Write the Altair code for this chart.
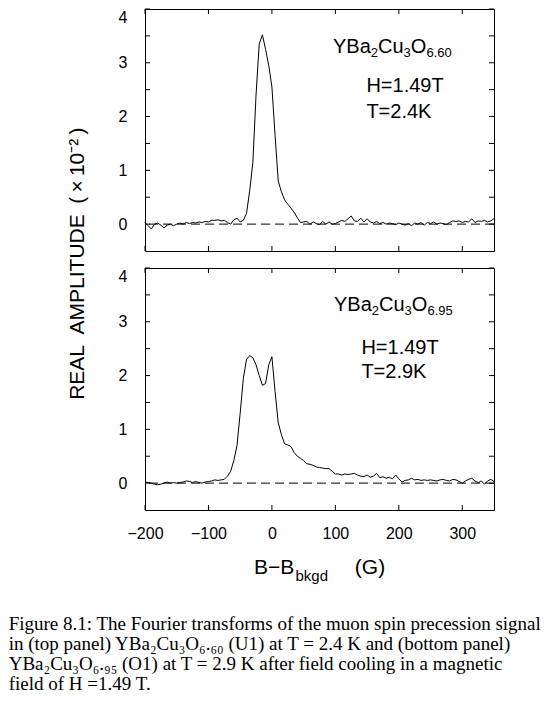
import altair as alt
import pandas as pd

# B - B_bkgd (G), one point every 5 G
field = list(range(-200, 355, 5))

# top panel, YBa2Cu3O6.60 (U1), H = 1.49 T, T = 2.4 K   (x 10^-2)
amp_660 = [
    0.03, -0.03, -0.09, 0.0, 0.02, -0.02, -0.07, -0.02, 0.0, -0.03,
    0.0, 0.02, 0.0, 0.03, 0.01, 0.03, 0.02, 0.04, 0.03, 0.05,
    0.04, 0.07, 0.07, 0.08, 0.06, 0.07, 0.03, 0.0, 0.08, 0.11,
    0.04, 0.07, 0.2, 0.62, 1.15, 2.4, 3.35, 3.52, 3.25, 2.95,
    2.55, 1.65, 0.8, 0.6, 0.45, 0.37, 0.3, 0.22, 0.12, 0.03,
    0.04, 0.05, 0.0, 0.04, 0.01, -0.01, 0.05, 0.0, 0.04, 0.0,
    0.01, 0.04, 0.07, 0.05, 0.1, 0.15, 0.06, 0.05, 0.11, 0.04,
    0.1, 0.04, 0.02, 0.05, 0.01, 0.03, 0.0, 0.02, 0.01, -0.01,
    0.02, 0.0, -0.02, 0.01, -0.03, 0.02, 0.0, 0.03, -0.02, 0.03,
    0.01, 0.04, 0.0, 0.02, 0.01, -0.01, 0.03, 0.06, 0.05, 0.06,
    0.03, 0.05, 0.04, 0.1, 0.03, 0.06, 0.05, 0.07, 0.04, 0.06,
    0.1,
]

# bottom panel, YBa2Cu3O6.95 (O1), H = 1.49 T, T = 2.9 K
amp_695 = [
    0.02, 0.01, 0.0, -0.02, -0.03, -0.02, 0.0, 0.02, 0.0, 0.01,
    0.0, 0.01, 0.02, 0.04, 0.03, 0.01, 0.03, 0.01, 0.0, 0.02,
    0.03, 0.04, 0.06, 0.05, 0.06, 0.07, 0.13, 0.22, 0.42, 0.7,
    1.3, 1.95, 2.3, 2.37, 2.33, 2.2, 2.0, 1.82, 1.85, 2.2,
    2.35, 1.7, 1.12, 0.9, 0.73, 0.71, 0.68, 0.57, 0.5, 0.46,
    0.42, 0.36, 0.35, 0.33, 0.3, 0.29, 0.28, 0.27, 0.27, 0.22,
    0.17, 0.17, 0.15, 0.17, 0.16, 0.17, 0.18, 0.15, 0.13, 0.12,
    0.15, 0.11, 0.13, 0.18, 0.1, 0.12, 0.09, 0.11, 0.08, 0.15,
    0.08, 0.02, 0.05, 0.06, 0.09, 0.06, 0.07, 0.05, 0.06, 0.05,
    0.06, 0.05, 0.04, 0.06, 0.07, 0.05, 0.04, 0.07, 0.06, 0.03,
    0.0, 0.04, 0.07, 0.09, 0.04, 0.01, 0.04, -0.02, 0.04, 0.07,
    0.03,
]

x_ticks = [-200, -100, 0, 100, 200, 300]
y_ticks = [0, 0.5, 1, 1.5, 2, 2.5, 3, 3.5, 4]

y_title = "REAL\u2002AMPLITUDE\u2002(\u2009\u00d7\u200910\u207b\u00b2\u2009)"

caption = [
    "Figure 8.1: The Fourier transforms of the muon spin precession signal",
    "in (top panel) YBa\u2082Cu\u2083O\u2086.\u2086\u2080 (U1) at T = 2.4 K and (bottom panel)",
    "YBa\u2082Cu\u2083O\u2086.\u2089\u2085 (O1) at T = 2.9 K after field cooling in a magnetic",
    "field of H =1.49 T.",
]

df = pd.DataFrame({"field": field, "amp_660": amp_660, "amp_695": amp_695})
zero_df = pd.DataFrame({"level": [0.0]})
xt_df = pd.DataFrame({"t": x_ticks})
yt_df = pd.DataFrame({"t": y_ticks})

SANS = "Liberation Sans"
W, H = 349, 242
TICK = 5
x_scale = alt.Scale(domain=[-200, 350], nice=False, zero=False)
y_scale = alt.Scale(domain=[-0.5, 4], nice=False, zero=False)


def txt(text, x, y, size=20, **kw):
    # one piece of text, placed in pixels inside the panel
    opts = dict(align="left", baseline="alphabetic", font=SANS, fontSize=size, color="black")
    opts.update(kw)
    return alt.Chart(alt.Data(values=[{}])).mark_text(text=text, **opts).encode(
        x=alt.value(x), y=alt.value(y))


def formula(x, y, tail):
    # YBa2Cu3O_x with subscripts
    big, small = 20, 13
    return [
        txt("YBa", x, y, big),
        txt("2", x + 37.8, y + 4.5, small),
        txt("Cu", x + 45, y, big),
        txt("3", x + 70.6, y + 4.5, small),
        txt("O", x + 77.8, y, big),
        txt(tail, x + 93.4, y + 4.5, small),
    ]


def inward_ticks():
    # tick marks pointing into the frame on all four sides
    xs = alt.X("t:Q", scale=x_scale, axis=None)
    ys = alt.Y("t:Q", scale=y_scale, axis=None)
    rule = dict(color="black", strokeWidth=1)
    return [
        alt.Chart(xt_df).mark_rule(**rule).encode(x=xs, y=alt.value(H), y2=alt.value(H - TICK)),
        alt.Chart(xt_df).mark_rule(**rule).encode(x=xs, y=alt.value(0), y2=alt.value(TICK)),
        alt.Chart(yt_df).mark_rule(**rule).encode(y=ys, x=alt.value(0), x2=alt.value(TICK)),
        alt.Chart(yt_df).mark_rule(**rule).encode(y=ys, x=alt.value(W), x2=alt.value(W - TICK)),
    ]


def panel(col, show_labels):
    # axis ticks are kept but made invisible; the labels sit 5 px + padding from the frame
    curve = alt.Chart(df).mark_line(color="black", strokeWidth=1).encode(
        x=alt.X("field:Q", scale=x_scale, title=None,
                axis=alt.Axis(values=x_ticks, labels=show_labels,
                              labelFlush=False, labelPadding=10.5)),
        y=alt.Y(f"{col}:Q", scale=y_scale, title=None,
                axis=alt.Axis(values=y_ticks, labelFlush=True, labelPadding=13,
                              labelExpr="datum.value % 1 ? '' : '' + datum.value")),
    )
    zero = alt.Chart(zero_df).mark_rule(
        color="black", strokeWidth=1, strokeDash=[9, 5]
    ).encode(y=alt.Y("level:Q", scale=y_scale, axis=None))
    return [zero, curve] + inward_ticks()


top = alt.layer(
    *panel("amp_660", False),
    *formula(188, 43.5, "6.60"),
    txt("H=1.49T", 221.4, 83),
    txt("T=2.4K", 221.4, 109),
    # y title, centred between the two panels
    txt(y_title, -61, 254.7, 21, align="center", angle=270),
).resolve_axis(x="independent", y="independent").properties(width=W, height=H)

bottom = alt.layer(
    *panel("amp_695", True),
    *formula(189, 42.5, "6.95"),
    txt("H=1.49T", 216.4, 85.7),
    txt("T=2.9K", 216.4, 110),
    # x title  B-B_bkgd (G)
    txt("B\u2212B", 109, 306, 21),
    txt("bkgd", 150.5, 313.4, 15),
    txt("(G)", 209.8, 306, 21),
    # figure caption
    txt(caption, -136.3, 361.7, 19, font="Liberation Serif", lineHeight=20),
).resolve_axis(x="independent", y="independent").properties(width=W, height=H)

chart = alt.vconcat(top, bottom, spacing=17, bounds="flush").properties(
    padding=0, background="white"
).configure_view(
    stroke="black", strokeWidth=1
).configure_axis(
    domain=False, grid=False, tickSize=TICK, tickColor="transparent",
    labelFont=SANS, labelFontSize=16, labelColor="black", labelOverlap=False,
)

chart.save("out.html", embed_options={"renderer": "svg", "actions": False})
